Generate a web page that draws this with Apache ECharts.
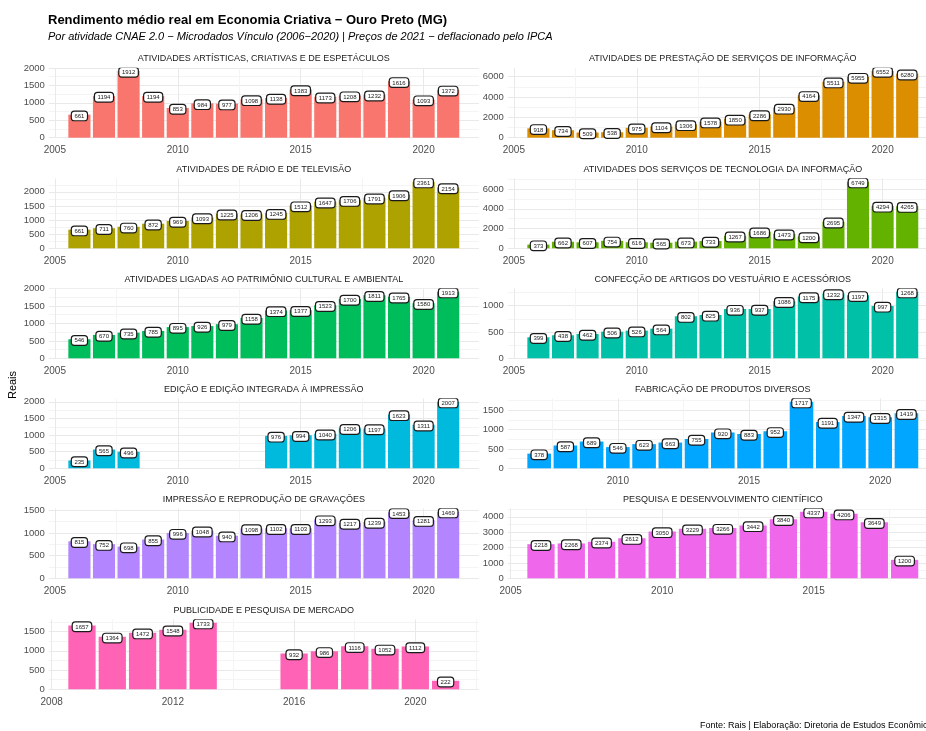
<!DOCTYPE html>
<html>
<head>
<meta charset="utf-8">
<script src="https://cdn.jsdelivr.net/npm/echarts@6/dist/echarts.min.js"></script>
<style>
html, body { margin: 0; padding: 0; background: #fff; }
#chart { width: 926px; height: 731px; }
</style>
</head>
<body>
<div id="chart"></div>
<script>
// titulos dos paineis (ordem do facet_wrap)
var panelTitles = [
    'ATIVIDADES ARTÍSTICAS, CRIATIVAS E DE ESPETÁCULOS',
    'ATIVIDADES DE PRESTAÇÃO DE SERVIÇOS DE INFORMAÇÃO',
    'ATIVIDADES DE RÁDIO E DE TELEVISÃO',
    'ATIVIDADES DOS SERVIÇOS DE TECNOLOGIA DA INFORMAÇÃO',
    'ATIVIDADES LIGADAS AO PATRIMÔNIO CULTURAL E AMBIENTAL',
    'CONFECÇÃO DE ARTIGOS DO VESTUÁRIO E ACESSÓRIOS',
    'EDIÇÃO E EDIÇÃO INTEGRADA À IMPRESSÃO',
    'FABRICAÇÃO DE PRODUTOS DIVERSOS',
    'IMPRESSÃO E REPRODUÇÃO DE GRAVAÇÕES',
    'PESQUISA E DESENVOLVIMENTO CIENTÍFICO',
    'PUBLICIDADE E PESQUISA DE MERCADO'
];
// primeiro ano de cada serie
var startYears = [2006, 2006, 2006, 2006, 2006, 2006, 2006, 2007, 2006, 2006, 2009];

// rendimento medio (R$) por ano
var artisticas  = [661, 1194, 1912, 1194, 853, 984, 977, 1098, 1138, 1383, 1173, 1208, 1232, 1616, 1093, 1372];
var prestacao   = [918, 734, 509, 538, 975, 1104, 1306, 1578, 1850, 2286, 2930, 4164, 5511, 5955, 6552, 6280];
var radioTv     = [661, 711, 760, 872, 969, 1093, 1225, 1206, 1245, 1512, 1647, 1706, 1791, 1906, 2361, 2154];
var tecnologia  = [373, 662, 607, 754, 616, 565, 673, 733, 1267, 1686, 1473, 1200, 2695, 6749, 4294, 4265];
var patrimonio  = [546, 670, 735, 785, 895, 926, 979, 1158, 1374, 1377, 1523, 1700, 1811, 1765, 1580, 1913];
var confeccao   = [399, 438, 462, 506, 526, 564, 802, 825, 936, 937, 1086, 1175, 1232, 1197, 997, 1268];
var edicao      = [235, 565, 496, null, null, null, null, null, 976, 994, 1040, 1206, 1197, 1623, 1311, 2007];
var fabricacao  = [378, 587, 689, 546, 623, 663, 755, 920, 883, 952, 1717, 1191, 1347, 1315, 1419];
var impressao   = [815, 752, 698, 855, 996, 1048, 940, 1098, 1102, 1103, 1293, 1217, 1239, 1453, 1281, 1469];
var pesquisa    = [2218, 2268, 2374, 2612, 3050, 3229, 3266, 3442, 3840, 4337, 4206, 3649, 1200];
var publicidade = [1657, 1364, 1472, 1548, 1733, null, null, 932, 986, 1116, 1052, 1112, 222];

var allValues = [artisticas, prestacao, radioTv, tecnologia, patrimonio, confeccao,
                 edicao, fabricacao, impressao, pesquisa, publicidade];

// passos dos ticks
var yStep = [500, 2000, 500, 2000, 500, 500, 500, 500, 500, 1000, 500];
var xStep = [5, 5, 5, 5, 5, 5, 5, 5, 5, 5, 4];

var colors = ['#F8766D', '#DB8E00', '#AEA200', '#64B200', '#00BD5C', '#00C1A7',
              '#00BADE', '#00A6FF', '#B385FF', '#EF67EB', '#FF63B6'];

function initChart() {
    var chart = echarts.init(document.getElementById('chart'));
    var colLeft = [48.8, 507.8];
    var plotW = 430, plotH = 70;
    var zeroY = [137.7, 248.3, 358.3, 468.3, 578.3, 689.3];
    var font = '"Liberation Sans", Arial, sans-serif';

    function isMult(v, step) {
        return Math.abs(v / step - Math.round(v / step)) < 1e-6;
    }

    var grids = [], xAxes = [], yAxes = [], series = [], graphics = [];

    allValues.forEach(function (vals, i) {
        var col = i % 2, row = Math.floor(i / 2);
        var first = startYears[i], last = first + vals.length - 1;
        var span = last - first + 0.9;
        var xmin = first - 0.45 - 0.05 * span;
        var xmax = last + 0.45 + 0.05 * span;
        var vmax = Math.max.apply(null, vals.filter(function (v) { return v != null; }));
        var ymax = vmax * 1.05;
        var top = zeroY[row] - plotH;

        grids.push({ left: colLeft[col], top: top, width: plotW, height: plotH, outerBoundsMode: 'none' });

        xAxes.push({
            type: 'value', gridIndex: i, min: xmin, max: xmax,
            minInterval: xStep[i], maxInterval: xStep[i],
            axisLine: { show: false }, axisTick: { show: false }, splitLine: { show: false },
            axisLabel: {
                margin: 8, fontSize: 10, color: '#4d4d4d', fontFamily: font,
                formatter: function (v) { return isMult(v, xStep[i]) ? String(Math.round(v)) : ''; }
            }
        });

        yAxes.push({
            type: 'value', gridIndex: i, min: 0, max: ymax, interval: yStep[i] / 2,
            axisLine: { show: false }, axisTick: { show: false },
            splitLine: { show: true, showMaxLine: false, lineStyle: { color: ['#e9e9e9', '#f4f4f4'], width: 1 } },
            axisLabel: {
                margin: 4, fontSize: 9.5, color: '#4d4d4d', fontFamily: font,
                formatter: function (v) { return isMult(v, yStep[i]) ? String(Math.round(v)) : ''; }
            }
        });

        // linhas verticais de grade (major nos ticks, minor no meio)
        var vLines = [];
        var s = xStep[i];
        for (var t = Math.ceil(xmin / (s / 2)) * (s / 2); t < xmax; t += s / 2) {
            vLines.push({ xAxis: t, lineStyle: { color: isMult(t, s) ? '#e9e9e9' : '#f4f4f4' } });
        }
        series.push({
            type: 'line', xAxisIndex: i, yAxisIndex: i, data: [], z: 0, silent: true,
            markLine: {
                z: 0, silent: true, symbol: ['none', 'none'], animation: false,
                label: { show: false },
                lineStyle: { type: 'solid', width: 1 },
                data: vLines
            }
        });

        var data = [];
        vals.forEach(function (v, k) { if (v != null) data.push([first + k, v]); });
        series.push({
            type: 'bar', xAxisIndex: i, yAxisIndex: i, z: 2,
            barWidth: '90%',
            itemStyle: { color: colors[i] },
            data: data,
            label: {
                show: true, position: 'top', distance: -5.5,
                formatter: function (p) { return p.value[1]; },
                fontSize: 6, fontFamily: font, color: '#1a1a1a',
                backgroundColor: '#fff', borderColor: '#1a1a1a', borderWidth: 1.2, borderRadius: 2.5,
                padding: [1.5, 2.5, 1, 2.5]
            }
        });

        // mascara o que passa do topo do painel
        graphics.push({
            type: 'rect', z: 100, silent: true,
            shape: { x: colLeft[col], y: top - 16, width: plotW, height: 16 },
            style: { fill: '#fff' }
        });
        graphics.push({
            type: 'text', z: 101, x: colLeft[col] + plotW / 2, y: zeroY[row] - 79,
            style: {
                text: panelTitles[i], textAlign: 'center', textVerticalAlign: 'middle',
                font: '9px ' + font, fill: '#1a1a1a'
            }
        });
    });

    graphics.push({
        type: 'text', z: 101, x: 48, y: 20,
        style: { text: 'Rendimento médio real em Economia Criativa − Ouro Preto (MG)', textVerticalAlign: 'middle',
                 font: 'bold 13px ' + font, fill: '#000' }
    });
    graphics.push({
        type: 'text', z: 101, x: 48, y: 37,
        style: { text: 'Por atividade CNAE 2.0 − Microdados Vínculo (2006−2020) | Preços de 2021 − deflacionado pelo IPCA',
                 textVerticalAlign: 'middle', font: 'italic 11px ' + font, fill: '#000' }
    });
    graphics.push({
        type: 'text', z: 101, x: 13, y: 385, rotation: Math.PI / 2,
        style: { text: 'Reais', textAlign: 'center', textVerticalAlign: 'middle', font: '11px ' + font, fill: '#000' }
    });
    graphics.push({
        type: 'text', z: 101, x: 700, y: 726,
        style: { text: 'Fonte: Rais | Elaboração: Diretoria de Estudos Econômicos', textVerticalAlign: 'middle',
                 font: '9px ' + font, fill: '#000' }
    });

    chart.setOption({
        animation: false,
        grid: grids,
        xAxis: xAxes,
        yAxis: yAxes,
        series: series,
        graphic: { elements: graphics }
    });
}
initChart();
</script>
</body>
</html>
